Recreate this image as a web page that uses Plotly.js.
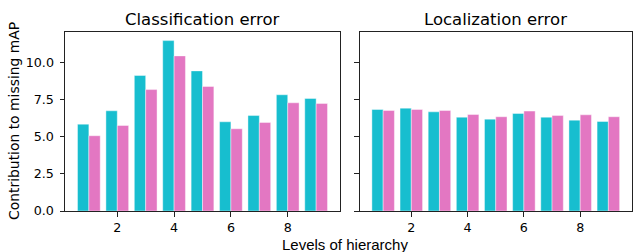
<!DOCTYPE html>
<html>
<head>
<meta charset="utf-8">
<script src="https://cdn.plot.ly/plotly-3.0.1.min.js"></script>
<style>html,body{margin:0;padding:0;background:#fff;}#chart{width:633px;height:252px;}</style>
</head>
<body>
<div id="chart"></div>
<script>
const levels = [1, 2, 3, 4, 5, 6, 7, 8, 9];
const clsCyan = [5.85, 6.75, 9.13, 11.48, 9.44, 6.01, 6.43, 7.83, 7.58];
const clsPink = [5.07, 5.76, 8.18, 10.45, 8.39, 5.54, 5.96, 7.29, 7.24];
const locCyan = [6.84, 6.93, 6.68, 6.32, 6.19, 6.57, 6.32, 6.12, 6.03];
const locPink = [6.77, 6.84, 6.77, 6.50, 6.35, 6.73, 6.43, 6.48, 6.35];
const xTicks = [2, 4, 6, 8];
const yTicks = [0, 2.5, 5, 7.5, 10];
const yTickText = ['0.0', '2.5', '5.0', '7.5', '10.0'];

const cyan = '#17becf', pink = '#e377c2';
function bar(x, y, color, offset, xa, ya) {
  return {type: 'bar', x: x, y: y, width: 0.4, offset: offset, xaxis: xa, yaxis: ya,
    marker: {color: color, line: {color: 'rgba(255,255,255,0.7)', width: 0.6}},
    showlegend: false, hoverinfo: 'skip'};
}
const data = [
  bar(levels, clsCyan, cyan, -0.4, 'x', 'y'),
  bar(levels, clsPink, pink, 0, 'x', 'y'),
  bar(levels, locCyan, cyan, -0.4, 'x2', 'y2'),
  bar(levels, locPink, pink, 0, 'x2', 'y2')
];
const tickFont = {family: 'DejaVu Sans', size: 12.7, color: '#000'};
const axBase = {showgrid: false, zeroline: false, showline: true, mirror: true, linecolor: '#222', linewidth: 1,
  ticks: 'outside', ticklen: 4.5, tickwidth: 1, tickcolor: '#222', tickfont: tickFont};
const W = 567;
const layout = {
  width: 633, height: 252,
  margin: {l: 65, r: 1, t: 32, b: 41},
  paper_bgcolor: '#fff', plot_bgcolor: '#fff',
  barmode: 'overlay',
  xaxis: Object.assign({}, axBase, {domain: [0, 275/W], range: [0.16, 9.84], tickvals: xTicks, ticktext: xTicks.map(String), anchor: 'y'}),
  xaxis2: Object.assign({}, axBase, {domain: [294.5/W, 1], range: [0.16, 9.84], tickvals: xTicks, ticktext: xTicks.map(String), anchor: 'y2'}),
  yaxis: Object.assign({}, axBase, {range: [0, 12.06], tickvals: yTicks, ticktext: yTickText, anchor: 'x', ticklabelstandoff: 3}),
  yaxis2: Object.assign({}, axBase, {range: [0, 12.06], tickvals: yTicks, showticklabels: false, anchor: 'x2'}),
  annotations: [
    {text: 'Classification error', xref: 'paper', yref: 'paper', x: 137.5/W, y: 1, xanchor: 'center', yanchor: 'bottom', yshift: 1, showarrow: false, font: {family: 'DejaVu Sans', size: 16.5, color: '#000'}},
    {text: 'Localization error', xref: 'paper', yref: 'paper', x: (294.5+567)/2/W, y: 1, xanchor: 'center', yanchor: 'bottom', yshift: 1, showarrow: false, font: {family: 'DejaVu Sans', size: 16.5, color: '#000'}},
    {text: 'Levels of hierarchy', xref: 'paper', yref: 'paper', x: (345-65)/W, y: 0, xanchor: 'center', yanchor: 'middle', yshift: -(244-211), showarrow: false, font: {family: 'Liberation Sans', size: 15, color: '#000'}},
    {text: 'Contribution to missing mAP', xref: 'paper', yref: 'paper', x: (14-65)/W, y: (211-121)/179, xanchor: 'center', yanchor: 'middle', textangle: -90, showarrow: false, font: {family: 'DejaVu Sans', size: 13.9, color: '#000'}}
  ]
};
Plotly.newPlot('chart', data, layout, {staticPlot: true, displayModeBar: false});
</script>
</body>
</html>
